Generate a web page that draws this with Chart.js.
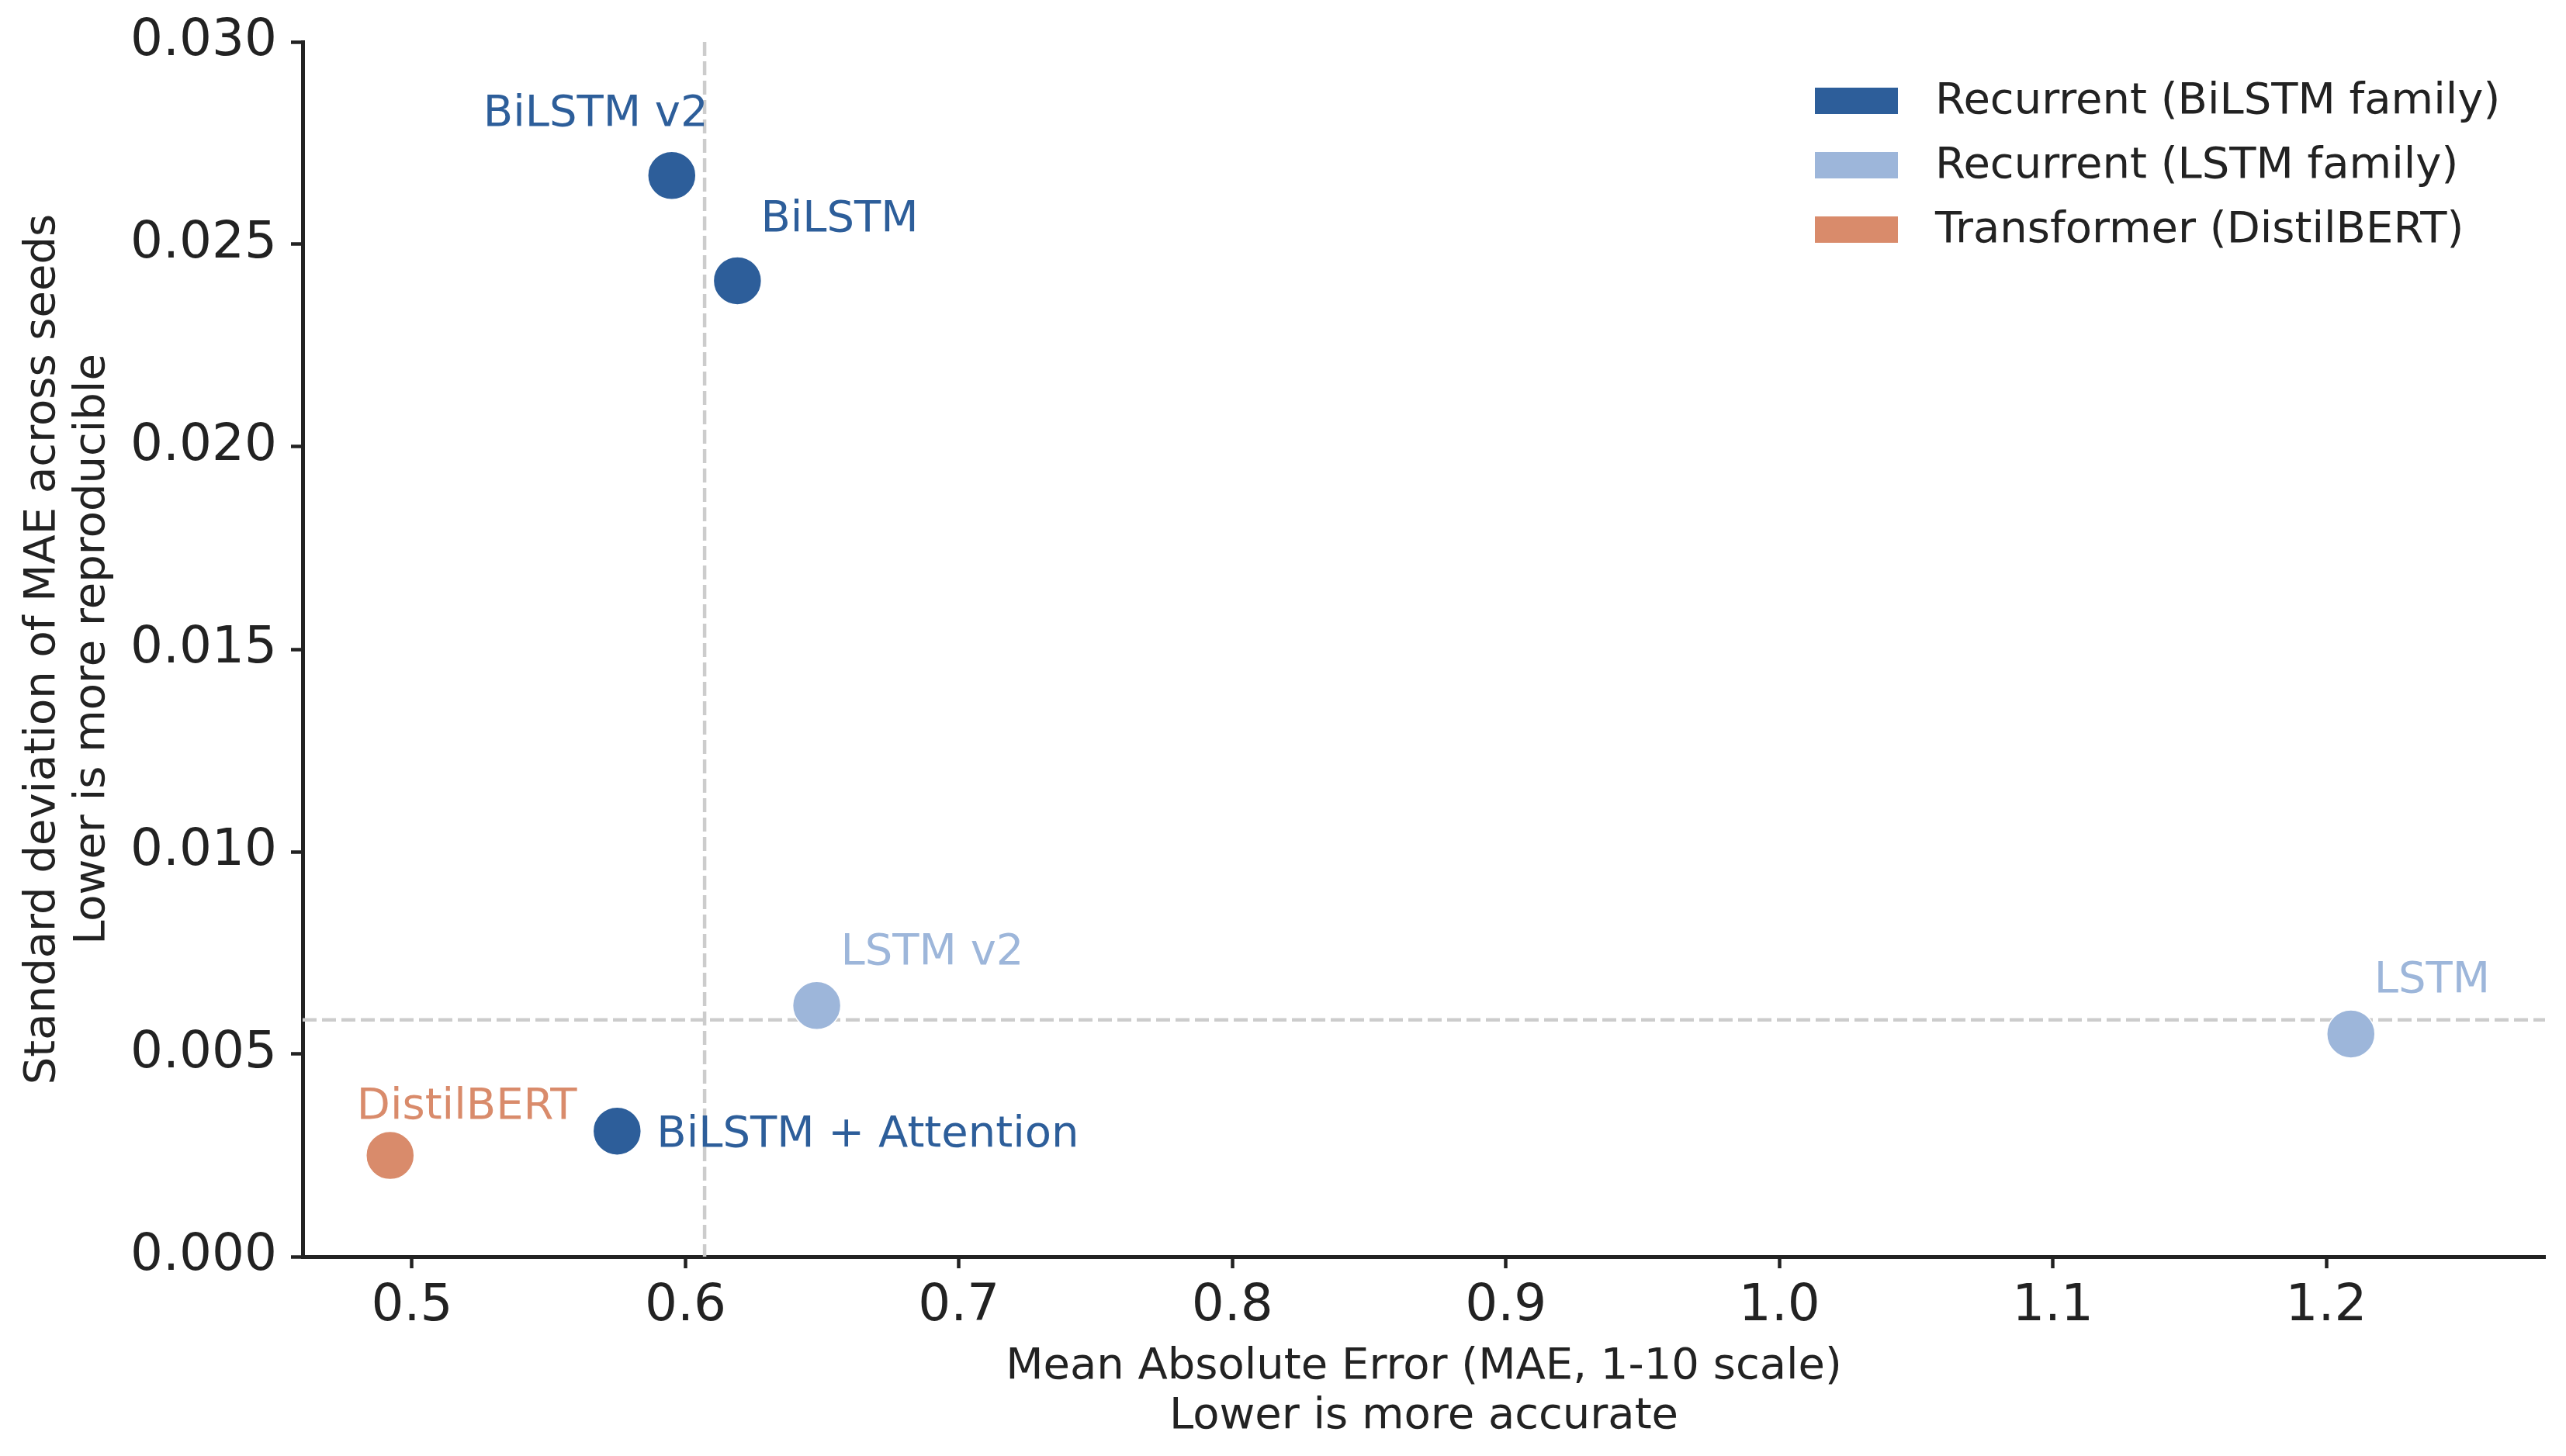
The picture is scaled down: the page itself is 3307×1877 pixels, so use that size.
<!DOCTYPE html>
<html lang="en">
<head>
<meta charset="UTF-8">
<title>MAE vs seed variability</title>
<script src="https://cdn.jsdelivr.net/npm/chart.js"></script>
<style>
  html, body { margin: 0; padding: 0; background: #fff; }
  canvas { display: block; }
</style>
</head>
<body>
<canvas id="graph" width="3307" height="1877"></canvas>
<script>
// one entry per model
const models = ['BiLSTM v2', 'BiLSTM', 'BiLSTM + Attention', 'LSTM v2', 'LSTM', 'DistilBERT'];
const modelFamily = [0, 0, 0, 1, 1, 2];
const mae = [0.595, 0.619, 0.575, 0.648, 1.209, 0.492];
const maeStd = [0.0267, 0.0241, 0.0031, 0.0062, 0.0055, 0.0025];

const families = ['Recurrent (BiLSTM family)', 'Recurrent (LSTM family)', 'Transformer (DistilBERT)'];
const familyColors = ['#2d5e9a', '#9db6da', '#d98b6b'];

const xTicks = [0.5, 0.6, 0.7, 0.8, 0.9, 1.0, 1.1, 1.2];
const yTicks = [0, 0.005, 0.010, 0.015, 0.020, 0.025, 0.030];

// where each name sits relative to its point (px, left edge / baseline)
const labelOffset = {
    'BiLSTM v2': [-243, -64],
    'BiLSTM': [30, -64],
    'BiLSTM + Attention': [51, 20],
    'LSTM v2': [31, -53],
    'LSTM': [30, -54],
    'DistilBERT': [-43, -48]
};

const FONT = 'DejaVu Sans';
const INK = '#222222';

function median(arr) {
    const s = arr.slice().sort((a, b) => a - b);
    const m = Math.floor(s.length / 2);
    return s.length % 2 ? s[m] : (s[m - 1] + s[m]) / 2;
}

const datasets = families.map((fam, k) => ({
    label: fam,
    data: models.map((m, i) => ({ x: mae[i], y: maeStd[i], name: m }))
                .filter((p, i) => modelFamily[i] === k),
    backgroundColor: familyColors[k],
    borderColor: '#ffffff',
    borderWidth: 1.5,
    pointRadius: 31,
    pointHoverRadius: 31
}));

// dashed median lines behind the points
const medianLines = {
    id: 'medianLines',
    beforeDatasetsDraw(chart) {
        const { ctx, chartArea, scales } = chart;
        const mx = scales.x.getPixelForValue(median(mae));
        const my = scales.y.getPixelForValue(median(maeStd));
        ctx.save();
        ctx.strokeStyle = '#cccccc';
        ctx.lineWidth = 4.5;
        ctx.setLineDash([18, 7]);
        ctx.beginPath();
        ctx.moveTo(mx, chartArea.top);
        ctx.lineTo(mx, chartArea.bottom);
        ctx.moveTo(chartArea.left, my);
        ctx.lineTo(chartArea.right, my);
        ctx.stroke();
        ctx.restore();
    }
};

// model names next to the points
const pointNames = {
    id: 'pointNames',
    afterDatasetsDraw(chart) {
        const ctx = chart.ctx;
        ctx.save();
        ctx.font = '56px "' + FONT + '"';
        ctx.textAlign = 'left';
        ctx.textBaseline = 'alphabetic';
        chart.data.datasets.forEach((ds, k) => {
            const meta = chart.getDatasetMeta(k);
            ctx.fillStyle = familyColors[k];
            meta.data.forEach((el, j) => {
                const name = ds.data[j].name;
                const off = labelOffset[name] || [30, -50];
                ctx.fillText(name, el.x + off[0], el.y + off[1]);
            });
        });
        ctx.restore();
    }
};

// legend box at upper right
const boxLegend = {
    id: 'boxLegend',
    afterDraw(chart) {
        const { ctx, chartArea } = chart;
        const x0 = chartArea.right - 941;
        ctx.save();
        ctx.font = '56px "' + FONT + '"';
        ctx.textAlign = 'left';
        ctx.textBaseline = 'middle';
        chart.data.datasets.forEach((ds, k) => {
            const cy = chartArea.top + 76 + 83 * k;
            ctx.fillStyle = familyColors[k];
            ctx.fillRect(x0, cy - 17, 107, 34);
            ctx.fillStyle = INK;
            ctx.fillText(ds.label, x0 + 155, cy + 1);
        });
        ctx.restore();
    }
};

new Chart(document.getElementById('graph'), {
    type: 'scatter',
    data: { datasets: datasets },
    plugins: [medianLines, pointNames, boxLegend],
    options: {
        responsive: false,
        animation: false,
        devicePixelRatio: 1,
        layout: { autoPadding: false, padding: { top: 54, right: 27, bottom: 0, left: 0 } },
        plugins: {
            legend: { display: false },
            tooltip: { enabled: false }
        },
        scales: {
            x: {
                type: 'linear',
                min: 0.46,
                max: 1.28,
                afterBuildTicks: s => { s.ticks = xTicks.map(v => ({ value: v })); },
                afterFit: s => { s.height = 257; s.paddingLeft = 0; s.paddingRight = 0; },
                ticks: {
                    callback: v => Number(v).toFixed(1),
                    color: INK,
                    font: { family: FONT, size: 66 },
                    padding: 10,
                    maxRotation: 0
                },
                grid: { drawOnChartArea: false, drawTicks: true, tickLength: 15, tickWidth: 4.5, tickColor: INK },
                border: { color: INK, width: 5 },
                title: {
                    display: true,
                    text: ['Mean Absolute Error (MAE, 1-10 scale)', 'Lower is more accurate'],
                    color: INK,
                    font: { family: FONT, size: 56, lineHeight: 1.143 },
                    padding: { top: 0, bottom: 19 }
                }
            },
            y: {
                type: 'linear',
                min: 0,
                max: 0.03,
                afterBuildTicks: s => { s.ticks = yTicks.map(v => ({ value: v })); },
                afterFit: s => { s.width = 390; s.paddingTop = 0; s.paddingBottom = 0; },
                ticks: {
                    callback: v => Number(v).toFixed(3),
                    color: INK,
                    font: { family: FONT, size: 66 },
                    padding: 18
                },
                grid: { drawOnChartArea: false, drawTicks: true, tickLength: 15, tickWidth: 4.5, tickColor: INK },
                border: { color: INK, width: 5 },
                title: {
                    display: true,
                    text: ['Standard deviation of MAE across seeds', 'Lower is more reproducible'],
                    color: INK,
                    font: { family: FONT, size: 56, lineHeight: 1.143 },
                    padding: { top: 23, bottom: 0 }
                }
            }
        }
    }
});
</script>
</body>
</html>
